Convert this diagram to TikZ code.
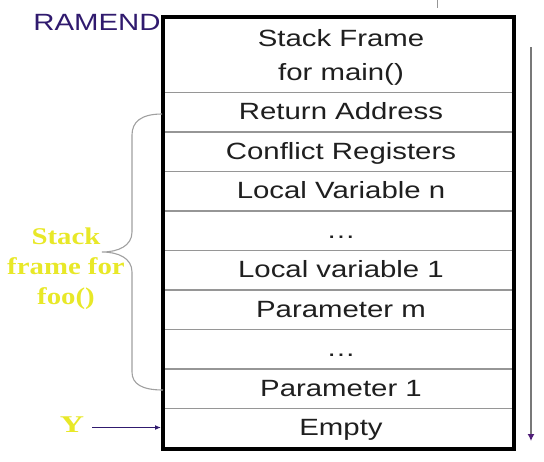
\documentclass[tikz,border=0pt]{standalone}
\usepackage{fontspec}
\setmainfont{Liberation Sans}
\newfontfamily\tms{Liberation Serif}
\usetikzlibrary{arrows.meta}
\definecolor{rowline}{RGB}{150,150,150}
\definecolor{navy}{RGB}{48,26,110}
\definecolor{ylw}{RGB}{232,232,40}
\definecolor{tip}{RGB}{80,30,120}
\newcommand{\widetxt}[1]{\scalebox{1.25}[1]{#1}}
\tikzset{
  cell/.style={draw=rowline, line width=1.5pt, minimum width=349pt, minimum height=39.5pt, inner sep=0pt, anchor=north west},
  celltxt/.style={inner sep=0pt, anchor=base, font=\fontsize{23.5}{34}\selectfont, text=black!88},
  lbl/.style={inner sep=0pt},
  brace/.style={draw=rowline!90, line width=1.1pt},
}
\begin{document}
\begin{tikzpicture}[x=1pt,y=-1pt]
\useasboundingbox (0,0) rectangle (544,461);
% rows
\node[cell, minimum height=74.5pt] (main) at (163,17) {};
\node[celltxt] (maintxtA) at (341,46) {\widetxt{Stack Frame}};
\node[celltxt] (maintxtB) at (341,80) {\widetxt{for main()}};
\foreach \i/\t [count=\k from 0] in {ret/Return Address, conf/Conflict Registers, locn/Local Variable n, dots1/\dots, loc1/Local variable 1, parm/Parameter m, dots2/\dots, par1/Parameter 1, empty/Empty}{
  \node[cell] (\i) at (163,91.5+39.5*\k) {};
  \node[celltxt] (\i txt) at (341,119.5+39.5*\k) {\widetxt{\t}};
}
% outer frame
\draw[line width=4pt] (main.north west) rectangle (empty.south east);
% RAMEND
\node[lbl, text=navy, font=\fontsize{23.5}{28}\selectfont] (ramend) at (97,22) {\widetxt{RAMEND}};
% brace
\coordinate (btop) at (162,114);
\coordinate (btip) at (102,252);
\coordinate (bbot) at (163,390);
\draw[brace] (btop) .. controls (141,114) and (132,122) .. (132,135) -- (132,232)
  .. controls (132,246) and (118,252) .. (btip)
  .. controls (118,252) and (132,258) .. (132,272) -- (132,372)
  .. controls (132,384) and (142,390) .. (bbot);
% stack frame label
\node[lbl, text=ylw, align=center, font=\tms\bfseries\fontsize{24}{30}\selectfont] (sflabel) at (66,268.5) {\scalebox{1.2}[1]{Stack}\\\scalebox{1.2}[1]{frame for}\\\scalebox{1.2}[1]{foo()}};
% Y pointer
\node[lbl, text=ylw, font=\tms\bfseries\fontsize{24}{28}\selectfont] (ylab) at (72,425) {\scalebox{1.4}[1]{Y}};
\coordinate (yend) at (161,427.5);
\coordinate (ystart) at (92,427.5);
\draw[navy, line width=1.2pt, -{Latex[length=6pt,width=5pt]}] (ystart) -- (yend);
% growth arrow
\coordinate (gtop) at (531,47);
\coordinate (gbot) at (531,441);
\draw[rowline!80!black, line width=1.2pt, -{Latex[length=7pt,width=7pt,color=tip]}] (gtop) -- (gbot);
% small tick at top
\coordinate (tk1) at (437,0);
\coordinate (tk2) at (437,8);
\draw[rowline, line width=1pt] (tk1) -- (tk2);
\end{tikzpicture}
\end{document}
